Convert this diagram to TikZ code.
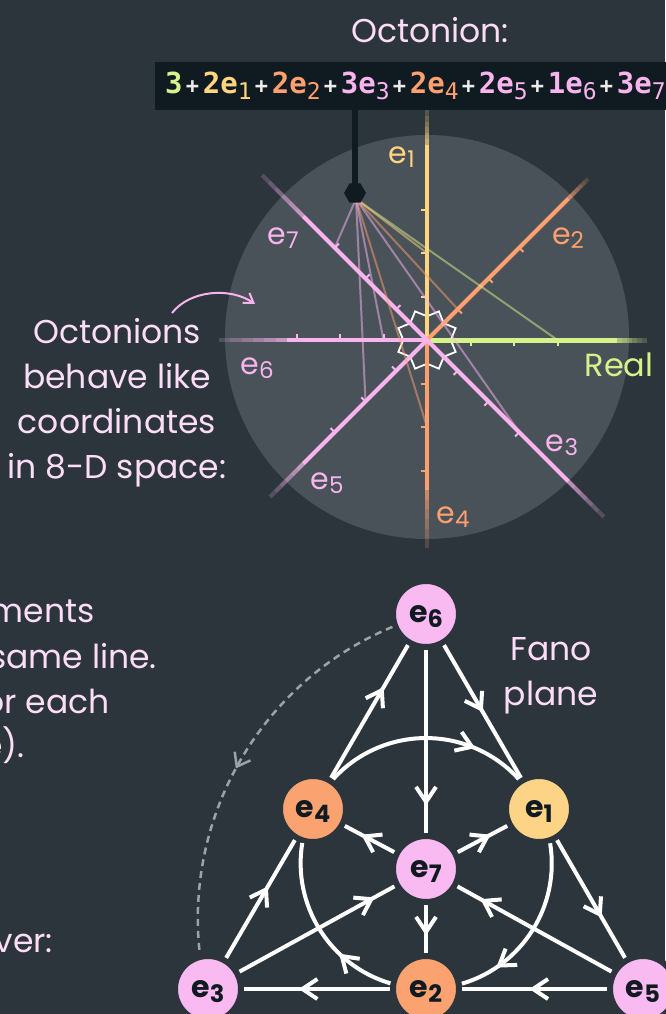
\documentclass[tikz,border=0pt]{standalone}
\usepackage{fontspec}
\setmainfont{Poppins}
\newfontfamily\monof{DejaVu Sans Mono}
\usetikzlibrary{calc,shapes.geometric,decorations.markings,arrows.meta}

\definecolor{bg}{HTML}{2C353C}
\definecolor{disc}{HTML}{4A5259}
\definecolor{boxc}{HTML}{0F1A21}
\definecolor{pinkT}{HTML}{FCDCF6}
\definecolor{pinkA}{HTML}{F9B4EE}
\definecolor{yel}{HTML}{FFD580}
\definecolor{ora}{HTML}{FFA06E}
\definecolor{grn}{HTML}{D6F28A}
\definecolor{npink}{HTML}{F9B9F1}
\definecolor{nora}{HTML}{FBA271}
\definecolor{nyel}{HTML}{FDD486}
\definecolor{dashc}{HTML}{9CA3A7}
\definecolor{plusc}{HTML}{ECECEC}

\newcommand\lbl[1]{e\raisebox{-5pt}{\fontsize{24}{24}\selectfont #1}}
\newcommand\albl[1]{e\raisebox{-4pt}{\fontsize{23}{23}\selectfont\mdseries #1}}
\newcommand\fplus{\hspace{3.2pt}{\fontsize{22}{22}\selectfont\bfseries\textcolor{plusc}{+}}\hspace{3.8pt}}
\newcommand\fterm[3]{\textcolor{#1}{\fontsize{29}{29}\selectfont\bfseries #2e\raisebox{-6.5pt}{\fontsize{23}{23}\selectfont\mdseries #3}}}

\newcommand\axisray[6]{%
  \draw[line width=#6, #2] (O) -- ($(O)+(#1:#3)$);
  \foreach \k in {0,...,5}{
    \pgfmathsetmacro\myra{#3+(#4-#3)*\k/6}
    \pgfmathsetmacro\myrb{#3+(#4-#3)*(\k+1)/6}
    \pgfmathsetmacro\myop{0.7-0.1*\k}
    \draw[line width=#6, #2, opacity=\myop] ($(O)+(#1:\myra)$) -- ($(O)+(#1:\myrb)$);
  }
  \foreach \t in {43.5,87,130.5}{
    \draw[line width=2pt, #2] ($(O)+(#1:\t)$) -- ++(#5:6);
  }
}

\tikzset{
  txt/.style={text=pinkT, font=\fontsize{33}{45}\selectfont, inner sep=0pt},
  alab/.style={font=\fontsize{30}{30}\selectfont, inner sep=0pt},
  proj/.style={line width=2pt, opacity=0.5},
  fnode/.style={circle, minimum size=66pt, inner sep=0pt, outer sep=3pt, draw=bg, line width=6pt,
    text=boxc, font=\fontsize{30}{30}\selectfont\bfseries, text depth=0pt},
  fedge/.style={draw=white, line width=4pt},
  chev/.style={postaction={decorate}, decoration={markings, mark=at position #1 with
    {\draw[white, solid, line width=4pt, line join=miter] (-15pt,10pt) -- (0pt,0pt) -- (-15pt,-10pt);}}},
  gchev/.style={postaction={decorate}, decoration={markings, mark=at position #1 with
    {\draw[dashc, solid, line width=2.5pt, line join=miter] (-12pt,9pt) -- (0pt,0pt) -- (-12pt,-9pt);}}},
}

\begin{document}
\begin{tikzpicture}[x=1pt,y=1pt]
\useasboundingbox (0,0) rectangle (665,-1014);
\fill[bg] (0,0) rectangle (665,-1014);

% ---------- disc and axes ----------
\coordinate (O) at (427,-340);
\fill[disc] (427,-337) circle[radius=202];
\draw[white, line width=1.8pt, line join=miter, shift={(427,-340)}] (22.5:31)
  \foreach \i in {1,...,15}{ -- ({22.5+22.5*\i}:{ifthenelse(mod(\i,2)==0,31,23.7)}) } -- cycle;

\axisray{90}{yel}{195}{230}{180}{4pt}
\axisray{-90}{ora}{150}{208}{180}{4pt}
\axisray{0}{grn}{190}{220}{-90}{5pt}
\axisray{45}{ora}{200}{228}{-45}{4pt}
\axisray{180}{pinkA}{140}{208}{90}{4pt}
\axisray{-135}{pinkA}{175}{222}{135}{4pt}
\axisray{135}{pinkA}{175}{233}{45}{4pt}
\axisray{-45}{pinkA}{200}{250}{225}{4pt}

% projection targets
\coordinate (pt) at (356,-199);
\coordinate (tR) at (557.5,-340);
\coordinate (t1) at (427,-253);
\coordinate (t2) at (457.8,-309.2);
\coordinate (t3) at (519.3,-432.3);
\coordinate (t4) at (427,-427);
\coordinate (t5) at (365.5,-401.5);
\coordinate (t6) at (383.5,-340);
\coordinate (t7) at (334.7,-247.7);
\draw[proj, grn] (pt) -- (tR);
\draw[proj, yel] (pt) -- (t1);
\draw[proj, ora] (pt) -- (t2);
\draw[proj, pinkA] (pt) -- (t3);
\draw[proj, ora] (pt) -- (t4);
\draw[proj, pinkA] (pt) -- (t5);
\draw[proj, pinkA] (pt) -- (t6);
\draw[proj, pinkA] (pt) -- (t7);

% axis labels
\node[alab, text=yel] (l1) at (401.7,-156.7) {\albl{1}};
\node[alab, text=ora] (l2) at (568,-238) {\albl{2}};
\node[alab, text=pinkA] (l3) at (562,-445) {\albl{3}};
\node[alab, text=ora] (l4) at (453,-517) {\albl{4}};
\node[alab, text=pinkA] (l5) at (327,-483) {\albl{5}};
\node[alab, text=pinkA] (l6) at (257,-368) {\albl{6}};
\node[alab, text=pinkA] (l7) at (283,-238) {\albl{7}};
\node[font=\fontsize{32}{32}\selectfont, text=grn, inner sep=0pt] (lreal) at (619,-365) {Real};

% ---------- formula ----------
\node[regular polygon, regular polygon sides=6, fill=boxc, minimum size=22pt, inner sep=0pt] (hex) at (355,-193) {};
\node[fill=boxc, minimum width=520pt, minimum height=48pt, anchor=north west, inner sep=0pt] (fbox) at (155,-62) {};
\draw[boxc, line width=6pt] (hex |- fbox.south) -- (hex.center);
\node[anchor=base west, inner sep=0pt, font=\monof] (formula) at (165,-93.3)
  {\textcolor{grn}{\fontsize{29}{29}\selectfont\bfseries 3}\fplus\fterm{yel}{2}{1}\fplus\fterm{ora}{2}{2}\fplus\fterm{pinkA}{3}{3}\fplus\fterm{ora}{2}{4}\fplus\fterm{pinkA}{2}{5}\fplus\fterm{pinkA}{1}{6}\fplus\fterm{pinkA}{3}{7}};
\node[txt, anchor=base] (octl) at (430,-43) {Octonion:};

% ---------- left text ----------
\node[txt, align=center, anchor=base] (ltxt) at (117,-478) {Octonions\\behave like\\coordinates\\in 8-D space:};
\coordinate (arrS) at (172,-313);
\coordinate (arrE) at (255,-304);
\draw[pinkA, line width=2pt, -{Straight Barb[length=9pt,width=12pt]}] (arrS) .. controls (190,-290) and (230,-287) .. (arrE);

\node[txt, anchor=base east] (c1) at (95,-622) {ments};
\node[txt, anchor=base east] (c2) at (157,-668) {same line.};
\node[txt, anchor=base east] (c3) at (110,-713) {or each};
\node[txt, anchor=base east] (c4) at (25,-757) {e).};
\node[txt, anchor=base east] (c5) at (53,-952) {ver:};

% ---------- Fano plane ----------
\node[txt, align=center, anchor=base] (fano) at (551,-705) {Fano\\plane};

\node[fnode, fill=npink] (e6) at (426,-614) {\lbl{6}};
\node[fnode, fill=nora] (e4) at (313,-809) {\lbl{4}};
\node[fnode, fill=nyel] (e1) at (539,-809) {\lbl{1}};
\node[fnode, fill=npink] (e7) at (426,-869) {\lbl{7}};
\node[fnode, fill=npink] (e3) at (208,-989) {\lbl{3}};
\node[fnode, fill=nora] (e2) at (426,-989) {\lbl{2}};
\node[fnode, fill=npink] (e5) at (643,-989) {\lbl{5}};

\draw[fedge, chev=0.66] (e4) -- (e6);
\draw[fedge, chev=0.48] (e6) -- (e1);
\draw[fedge, chev=0.83] (e6) -- (e7);
\draw[fedge, chev=0.6] (e7) -- (e4);
\draw[fedge, chev=0.6] (e7) -- (e1);
\draw[fedge, chev=0.58] (e3) -- (e4);
\draw[fedge, chev=0.85] (e3) -- (e7);
\draw[fedge, chev=0.56] (e7) -- (e2);
\draw[fedge, chev=0.83] (e5) -- (e7);
\draw[fedge, chev=0.63] (e1) -- (e5);
\draw[fedge, chev=0.6] (e2) -- (e3);
\draw[fedge, chev=0.51] (e5) -- (e2);
\draw[fedge, chev=0.725] (e4.56) arc[start angle=137.75, end angle=42.25, radius=125.45];
\draw[fedge, chev=0.77] (e1.-72.5) arc[start angle=9.25, end angle=-73.5, radius=125.45];
\draw[fedge, chev=0.31] (e2.171.75) arc[start angle=253.5, end angle=170.75, radius=125.45];

\draw[dashc, line width=2.5pt, dash pattern=on 7pt off 5pt, gchev=0.525] (e6.201.5) arc[start angle=112.6, end angle=186.2, radius=316];
\end{tikzpicture}
\end{document}
